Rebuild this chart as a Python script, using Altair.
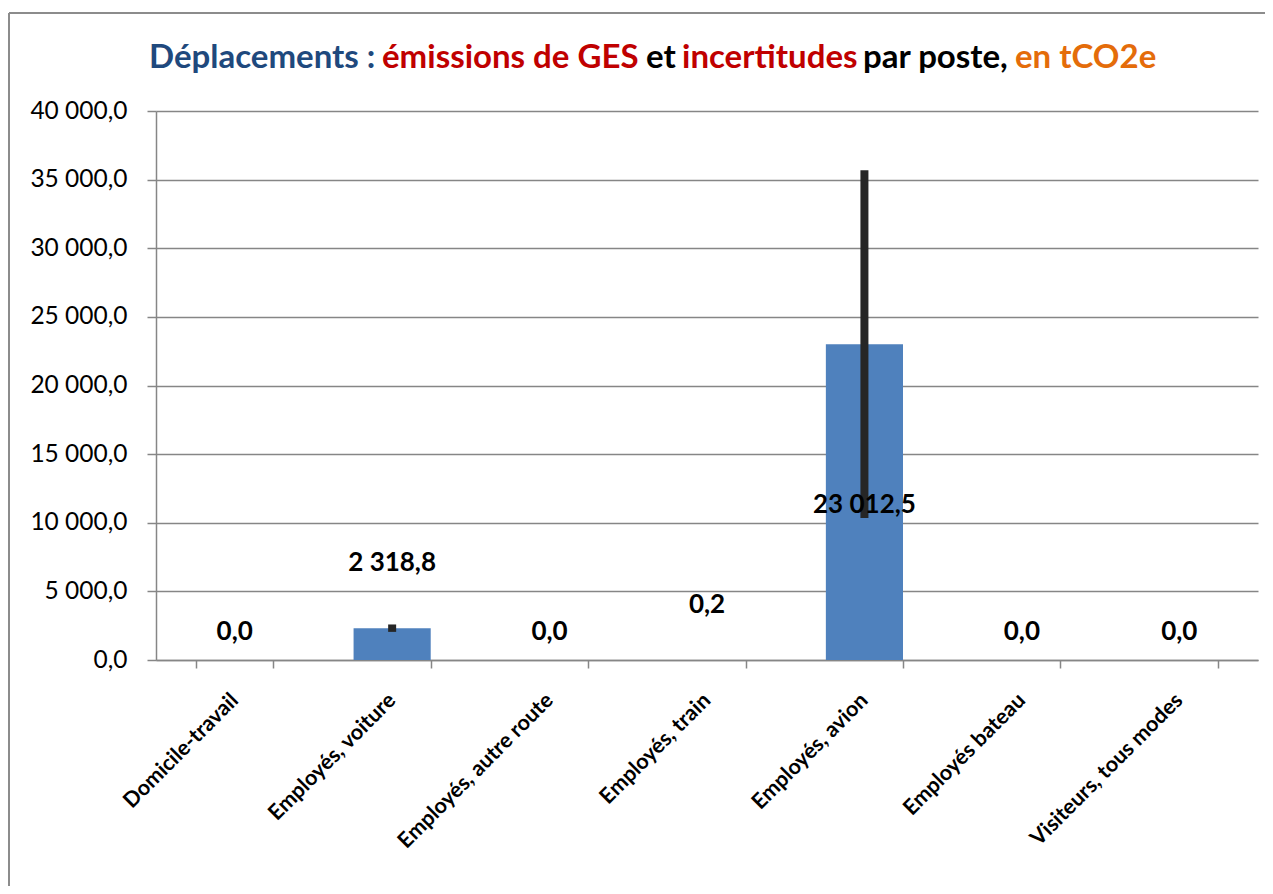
import altair as alt
import pandas as pd

# ---- data ----
categories = ["Domicile-travail", "Employés, voiture", "Employés, autre route",
              "Employés, train", "Employés, avion", "Employés bateau", "Visiteurs, tous modes"]
values = [0.0, 2318.8, 0.0, 0.2, 23012.5, 0.0, 0.0]
uncertainty = [0.0, 270.0, 0.0, 0.0, 12670.0, 0.0, 0.0]
value_labels = ["0,0", "2 318,8", "0,0", "0,2", "23 012,5", "0,0", "0,0"]
y_ticks = [0, 5000, 10000, 15000, 20000, 25000, 30000, 35000, 40000]

title_parts = ["Déplacements :", "émissions de GES", "et", "incertitudes", "par poste,", "en tCO2e"]
title_colors = ["#1F497D", "#C00000", "#000000", "#C00000", "#000000", "#E46C0A"]

# label anchor heights (data units) as Excel placed them
label_anchor = [2040, 7070, 2040, 4000, 11290, 2040, 2040]

df = pd.DataFrame({"cat": categories, "val": values, "unc": uncertainty,
                   "lab": value_labels, "lab_y": label_anchor})
df["lo"] = df["val"] - df["unc"]
df["hi"] = df["val"] + df["unc"]
err_df = df[df["unc"] > 0]

FONT = "Lato"
W, H = 1102, 549

xenc = alt.X("cat:N", sort=categories, title=None,
             scale=alt.Scale(paddingInner=0.51, paddingOuter=0.255),
             axis=alt.Axis(labelAngle=-45, labelAlign="right", labelBaseline="middle",
                           labelFontSize=21.5, labelFontWeight="bold", labelFont=FONT,
                           labelColor="#000000", labelPadding=29, tickBand="extent",
                           tickSize=8, tickColor="#868686", tickWidth=1.5,
                           domainColor="#868686", domainWidth=1.5, labelLimit=400))
yscale = alt.Scale(domain=[0, 40000])
yaxis = alt.Axis(values=y_ticks, title=None, labelFontSize=24.5, labelFont=FONT,
                 labelColor="#000000", labelPadding=20, tickSize=9, tickColor="#868686",
                 tickWidth=1.5, domainColor="#868686", domainWidth=1.5,
                 gridColor="#868686", gridWidth=1.5,
                 labelExpr="replace(replace(format(datum.value, ',.1f'), regexp(',', 'g'), ' '), '.', ',')")

base = alt.Chart(df)
bars = base.mark_bar(color="#4F81BD").encode(
    x=xenc, y=alt.Y("val:Q", scale=yscale, axis=yaxis))
errs = alt.Chart(err_df).mark_rule(color="#262626", strokeWidth=8).encode(
    x=alt.X("cat:N", sort=categories), y=alt.Y("lo:Q", scale=yscale), y2="hi:Q")
labels = base.mark_text(font=FONT, fontSize=26, fontWeight="bold", color="#000000",
                        baseline="middle").encode(
    x=alt.X("cat:N", sort=categories), y=alt.Y("lab_y:Q", scale=yscale), text="lab:N")

# multi-coloured title: segments chained left to right
title_x = [149, 382, 646, 682, 863, 1015]
title_layers = []
for txt, col, tx in zip(title_parts, title_colors, title_x):
    title_layers.append(
        alt.Chart(pd.DataFrame({"t": [txt]})).mark_text(
            font=FONT, fontSize=33, fontWeight="bold", color=col, align="left",
            baseline="middle").encode(text="t:N", x=alt.value(tx - 156), y=alt.value(58 - 111)))

# outer frame lines
frame_top = alt.Chart(pd.DataFrame({"a": [0]})).mark_rule(color="#8C8C8C", strokeWidth=2).encode(
    x=alt.value(-147), x2=alt.value(1273 - 156), y=alt.value(13 - 111))
frame_left = alt.Chart(pd.DataFrame({"a": [0]})).mark_rule(color="#8C8C8C", strokeWidth=2).encode(
    x=alt.value(-147), y=alt.value(13 - 111), y2=alt.value(894 - 111))

chart = alt.layer(bars, errs, labels, frame_top, frame_left, *title_layers).properties(
    width=W, height=H,
    autosize=alt.AutoSizeParams(type="none"),
    padding={"left": 148, "top": 103, "right": 7, "bottom": 226},
    background="white",
).configure_view(stroke=None)

chart.save("out.html", embed_options={"renderer": "svg", "actions": False})
